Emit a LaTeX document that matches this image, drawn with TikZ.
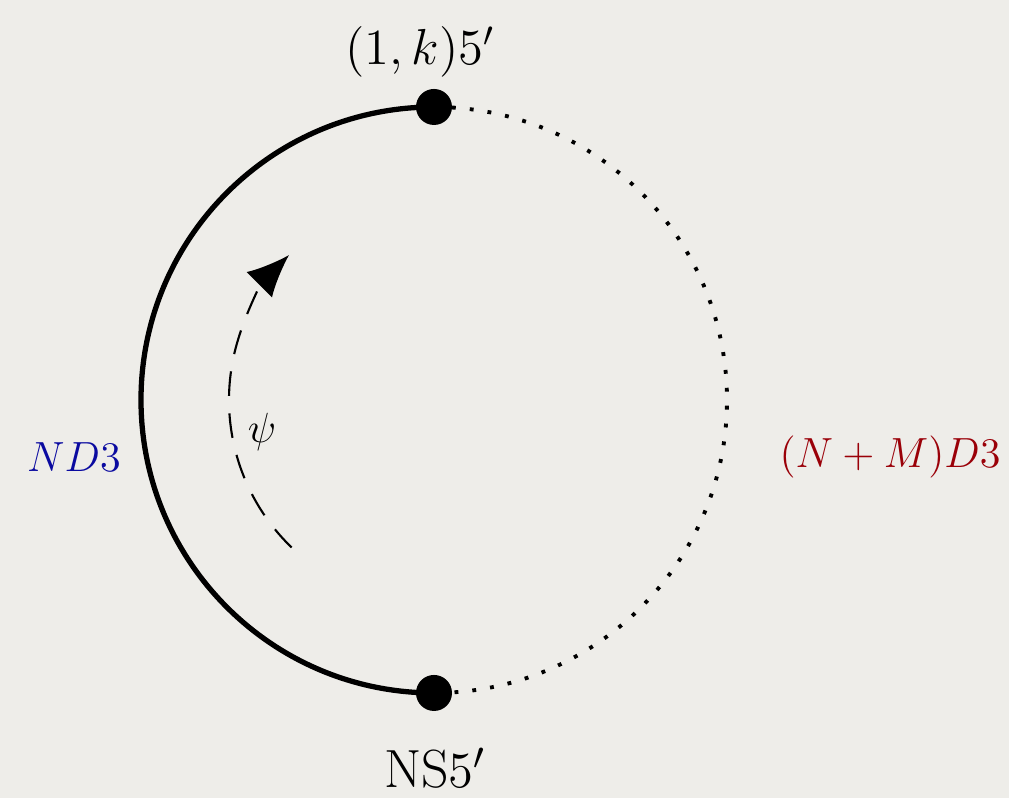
\documentclass[tikz,border=0pt]{standalone}
\usepackage{tikz}
\usetikzlibrary{positioning,arrows.meta,calc}
\definecolor{paperBg}{HTML}{EEEDE9}
\definecolor{ndBlue}{HTML}{0A0AA0}
\definecolor{nmRed}{HTML}{9A0008}

\begin{document}
\begin{tikzpicture}[
  brane/.style ={fill=black, circle, inner sep=0pt, minimum size=3.6mm},
  solidarc/.style={line width=1.5pt},
  dotarc/.style={line width=1.1pt, dash pattern=on 1.1pt off 4pt},
  psiarc/.style={line width=0.6pt, dash pattern=on 7pt off 5pt, -{Latex[length=4.2mm,width=3.6mm]}},
  lbl/.style   ={inner sep=1pt},
]
% background paper
\fill[paperBg] (0,0) rectangle (10.09,7.98);
\useasboundingbox (0,0) rectangle (10.09,7.98);

% ==================== circle ====================
\coordinate (ctr) at (4.34,3.98);
\node[brane] (top) at (4.34,6.91) {};
\node[brane] (bot) at (4.34,1.05) {};

\draw[solidarc] (top.center) arc[start angle=90, end angle=270, radius=2.93];
\draw[dotarc] (top.center) arc[start angle=90, end angle=-90, radius=2.93];

% rotation angle
\coordinate (psistart) at ($(ctr)+(226:2.05)$);
\draw[psiarc] (psistart) arc[start angle=226, end angle=135, radius=2.05];
\node[lbl, font=\fontsize{12}{14}\selectfont] (psi) at (2.62,3.66) {$\psi$};

% ==================== labels ====================
\node[lbl, font=\fontsize{14}{16}\selectfont] (toplbl) at (4.20,7.46) {$(1,k)5'$};
\node[lbl, font=\fontsize{15.3}{18}\selectfont] (botlbl) at (4.35,0.30) {NS$5'$};
\node[lbl, text=ndBlue, font=\fontsize{11.8}{14}\selectfont] (nd) at (0.74,3.41) {$ND3$};
\node[lbl, text=nmRed, font=\fontsize{11.8}{14}\selectfont] (nm) at (8.90,3.41) {$(N+M)D3$};

\end{tikzpicture}
\end{document}
